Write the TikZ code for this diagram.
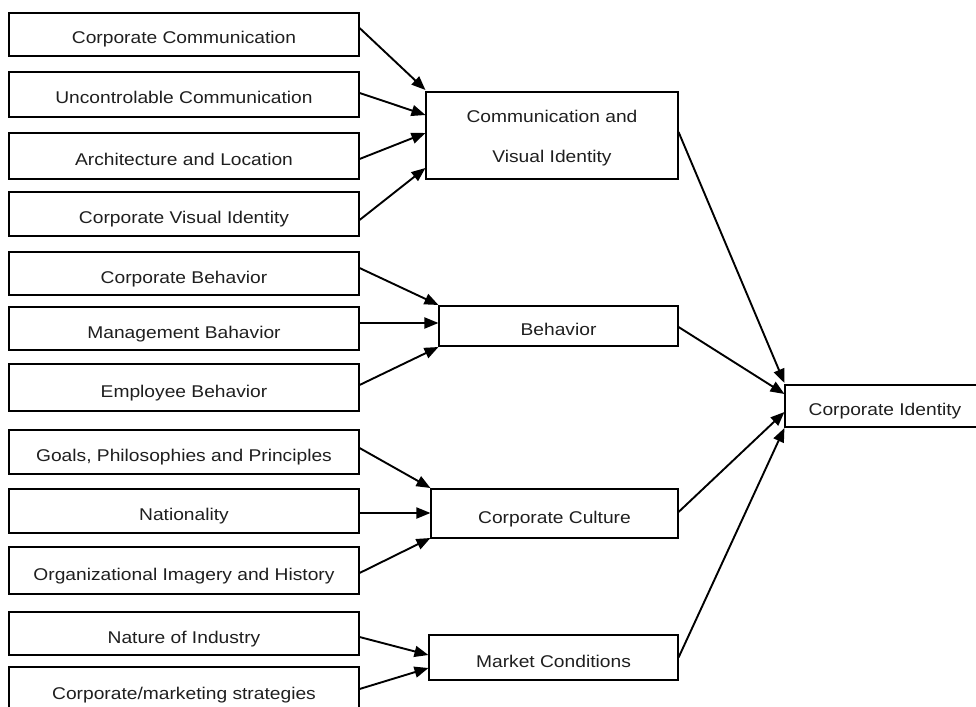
\documentclass[tikz,border=0pt]{standalone}
\usepackage{fontspec}
\setmainfont[FakeStretch=1.13]{Liberation Sans}
\usetikzlibrary{arrows.meta,calc}
\begin{document}
\begin{tikzpicture}[x=1pt,y=-1pt,
  every node/.style={font=\fontsize{17}{20}\selectfont, text=black!88},
  box/.style={draw, line width=1.1pt, inner sep=0pt},
  oneline/.style={text height=19pt, text depth=0pt},
  src/.style={box, oneline, minimum width=350pt},
  mid/.style={box, oneline},
  flow/.style={line width=1.9pt, -{Triangle[length=14pt,width=11pt]}}]
\useasboundingbox (0,0) rectangle (976,706);
\fill[white] (0,0) rectangle (976,706);
\clip (0,0) rectangle (976,706);

% source factors
\node[src, minimum height=43pt] (b1)  at (184,34.5)  {Corporate Communication};
\node[src, minimum height=45pt] (b2)  at (184,94.5)  {Uncontrolable Communication};
\node[src, minimum height=46pt] (b3)  at (184,156)   {Architecture and Location};
\node[src, minimum height=44pt] (b4)  at (184,214)   {Corporate Visual Identity};
\node[src, minimum height=43pt] (b5)  at (184,273.5) {Corporate Behavior};
\node[src, minimum height=43pt] (b6)  at (184,328.5) {Management Bahavior};
\node[src, minimum height=47pt] (b7)  at (184,387.5) {Employee Behavior};
\node[src, minimum height=44pt] (b8)  at (184,452)   {Goals, Philosophies and Principles};
\node[src, minimum height=44pt] (b9)  at (184,511)   {Nationality};
\node[src, minimum height=47pt] (b10) at (184,570.5) {Organizational Imagery and History};
\node[src, minimum height=43pt] (b11) at (184,633.5) {Nature of Industry};
\node[src, minimum height=46pt] (b12) at (184,690)   {Corporate/marketing strategies};

% intermediate constructs
\node[box, minimum width=252pt, minimum height=87pt] (cvi) at (552,135.5) {};
\node[align=center, font=\fontsize{17}{40}\selectfont, inner sep=0pt]
      at ($(cvi.center)+(0,3)$) {Communication and\\Visual Identity};
\node[mid, minimum width=239pt, minimum height=40pt] (beh) at (558.5,326)   {Behavior};
\node[mid, minimum width=247pt, minimum height=49pt] (cul) at (554.5,513.5) {Corporate Culture};
\node[mid, minimum width=249pt, minimum height=45pt] (mkt) at (553.5,657.5) {Market Conditions};

% outcome
\node[mid, minimum width=200pt, minimum height=42pt] (ci) at (885,406) {Corporate Identity};

% factors -> constructs
\draw[flow] ($(b1.east)+(0,-6.5)$) -- ($(cvi.west)+(0,-45.5)$);
\draw[flow] ($(b2.east)+(0,-1.5)$) -- ($(cvi.west)+(0,-20.5)$);
\draw[flow] ($(b3.east)+(0,3)$)    -- ($(cvi.west)+(0,-2.5)$);
\draw[flow] ($(b4.east)+(0,6)$)    -- ($(cvi.west)+(0,32.5)$);

\draw[flow] ($(b5.east)+(0,-5.5)$) -- ($(beh.west)+(0,-21)$);
\draw[flow] ($(b6.east)+(0,-5.5)$) -- ($(beh.west)+(0,-3)$);
\draw[flow] ($(b7.east)+(0,-2.5)$) -- ($(beh.west)+(0,21)$);

\draw[flow] ($(b8.east)+(0,-4)$)   -- ($(cul.west)+(0,-25.5)$);
\draw[flow] ($(b9.east)+(0,2)$)    -- ($(cul.west)+(0,-0.5)$);
\draw[flow] ($(b10.east)+(0,2.5)$) -- ($(cul.west)+(0,24.5)$);

\draw[flow] ($(b11.east)+(0,3.5)$) -- ($(mkt.west)+(0,-2.5)$);
\draw[flow] ($(b12.east)+(0,-1)$)  -- ($(mkt.west)+(0,10.5)$);

% constructs -> corporate identity
\draw[flow] ($(cvi.east)+(0,-3.5)$) -- ($(ci.west)+(0,-23)$);
\draw[flow] ($(beh.east)+(0,1)$)    -- ($(ci.west)+(0,-12)$);
\draw[flow] ($(cul.east)+(0,-1.5)$) -- ($(ci.west)+(0,6)$);
\draw[flow] (mkt.east)              -- ($(ci.west)+(0,22)$);
\end{tikzpicture}
\end{document}
